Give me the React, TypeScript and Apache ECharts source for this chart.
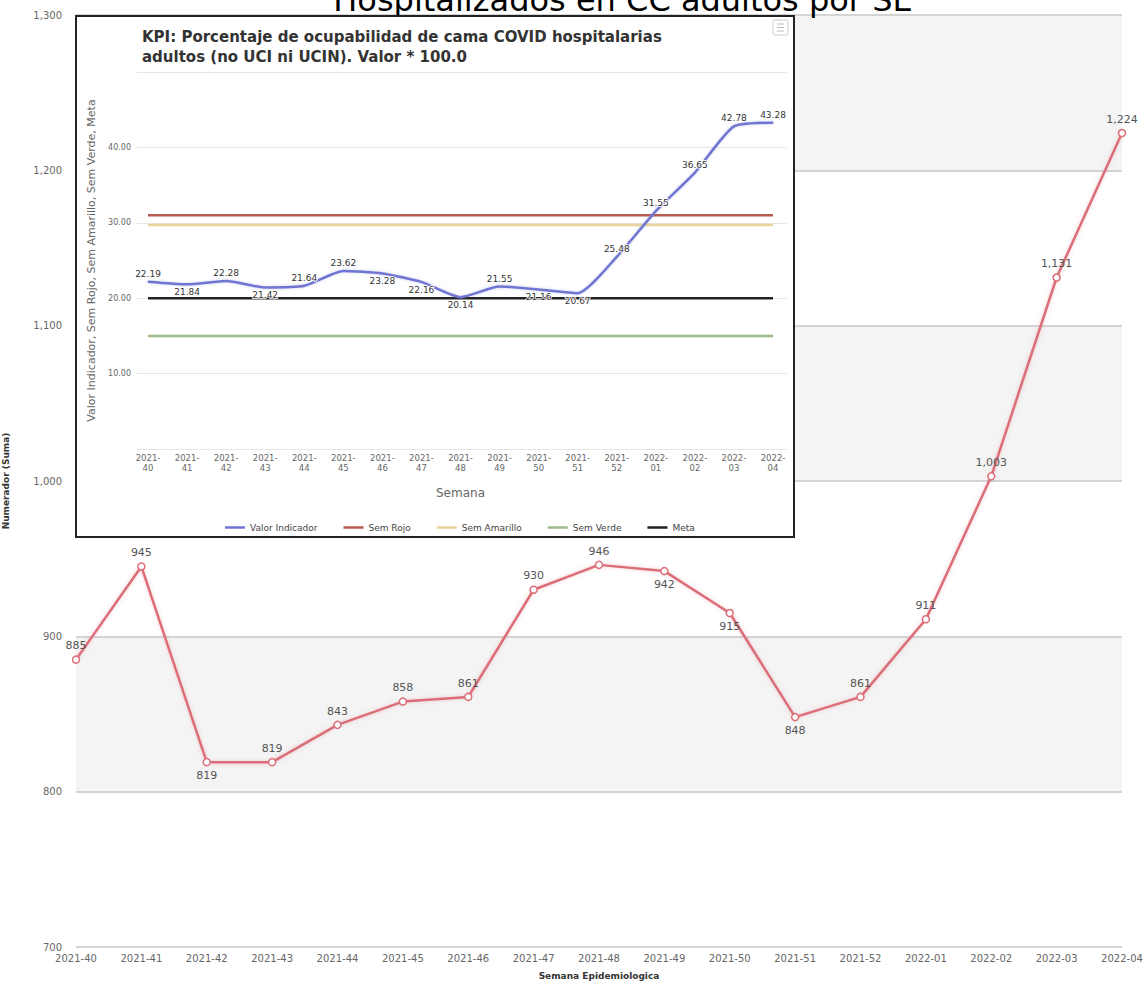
import React, { useEffect, useRef } from "react";
import * as echarts from "echarts";

const FONT = '"DejaVu Sans", Verdana, sans-serif';

const MAIN_TITLE = "Hospitalizados en CC adultos por SE";
const INSET_TITLE =
  "KPI: Porcentaje de ocupabilidad de cama COVID hospitalarias\nadultos (no UCI ni UCIN). Valor * 100.0";

const weeks = [
  "2021-40", "2021-41", "2021-42", "2021-43", "2021-44", "2021-45", "2021-46", "2021-47", "2021-48",
  "2021-49", "2021-50", "2021-51", "2021-52", "2022-01", "2022-02", "2022-03", "2022-04",
];

const numerador = [885, 945, 819, 819, 843, 858, 861, 930, 946, 942, 915, 848, 861, 911, 1003, 1131, 1224];
const numeradorLabelPos = [
  "top", "top", "bottom", "top", "top", "top", "top", "top", "top",
  "bottom", "bottom", "bottom", "top", "top", "top", "top", "top",
];

const valorIndicador = [
  22.19, 21.84, 22.28, 21.42, 21.64, 23.62, 23.28, 22.16, 20.14,
  21.55, 21.16, 20.67, 25.48, 31.55, 36.65, 42.78, 43.28,
];
const valorLabelPos = [
  "top", "bottom", "top", "bottom", "top", "top", "bottom", "bottom", "bottom",
  "top", "bottom", "bottom", "top", "top", "top", "top", "top",
];
const semRojo = [31, 31, 31, 31, 31, 31, 31, 31, 31, 31, 31, 31, 31, 31, 31, 31, 31];
const semAmarillo = [29.7, 29.7, 29.7, 29.7, 29.7, 29.7, 29.7, 29.7, 29.7, 29.7, 29.7, 29.7, 29.7, 29.7, 29.7, 29.7, 29.7];
const semVerde = [15, 15, 15, 15, 15, 15, 15, 15, 15, 15, 15, 15, 15, 15, 15, 15, 15];
const meta = [20, 20, 20, 20, 20, 20, 20, 20, 20, 20, 20, 20, 20, 20, 20, 20, 20];

const fmt = (v: number) => v.toLocaleString("en-US");

function MainChart() {
  const ref = useRef<HTMLDivElement>(null);
  useEffect(() => {
    const chart = echarts.init(ref.current!, undefined, { renderer: "svg" });
    chart.setOption({
      animation: false,
      textStyle: { fontFamily: FONT },
      graphic: [
        {
          type: "text",
          z: 100,
          style: {
            text: MAIN_TITLE,
            x: 623,
            y: 16,
            textAlign: "center",
            textVerticalAlign: "bottom",
            font: `32px ${FONT}`,
            fill: "#000",
          },
        },
      ],
      grid: { left: 76, right: 23, top: 15, bottom: 34, outerBoundsMode: "none" },
      xAxis: {
        type: "category",
        data: weeks,
        boundaryGap: false,
        axisLine: { show: false },
        axisTick: { show: false },
        axisLabel: { color: "#666", fontSize: 10, margin: 6, fontFamily: FONT },
        name: "Semana Epidemiologica",
        nameLocation: "middle",
        nameGap: 24,
        nameTextStyle: { fontWeight: "bold", fontSize: 9, color: "#333", fontFamily: FONT },
      },
      yAxis: {
        type: "value",
        min: 700,
        max: 1300,
        interval: 100,
        axisLine: { show: false },
        axisTick: { show: false },
        axisLabel: { formatter: (v: number) => fmt(v), color: "#666", fontSize: 10, margin: 14, fontFamily: FONT },
        splitLine: { lineStyle: { color: "#d4d4d4", width: 2 } },
        splitArea: { show: true, areaStyle: { color: ["rgba(255,255,255,0)", "#f4f4f4"] } },
        name: "Numerador (Suma)",
        nameLocation: "middle",
        nameGap: 66,
        nameTextStyle: { fontWeight: "bold", fontSize: 9, color: "#333", fontFamily: FONT },
      },
      series: [
        {
          type: "line",
          data: numerador.map((v, i) => ({ value: v, label: { position: numeradorLabelPos[i] } })),
          symbol: "circle",
          symbolSize: 7,
          itemStyle: { color: "#fff", borderColor: "#db6e78", borderWidth: 1.5 },
          lineStyle: { color: "#db6e78", width: 2.5, shadowColor: "rgba(219,110,120,0.35)", shadowBlur: 4 },
          label: {
            show: true,
            formatter: (p: any) => fmt(p.value),
            fontSize: 11,
            color: "#555",
            distance: 4,
            fontFamily: FONT,
          },
        },
      ],
    });
    return () => chart.dispose();
  }, []);
  return <div ref={ref} style={{ position: "absolute", left: 0, top: 0, width: 1145, height: 981 }} />;
}

function InsetChart() {
  const ref = useRef<HTMLDivElement>(null);
  useEffect(() => {
    const chart = echarts.init(ref.current!, undefined, { renderer: "svg" });
    const constSeries = (name: string, data: number[], color: string) => ({
      name,
      type: "line",
      xAxisIndex: 1,
      yAxisIndex: 1,
      data,
      showSymbol: false,
      symbol: "none",
      color,
      lineStyle: { color, width: 2.5 },
    });
    chart.setOption({
      animation: false,
      textStyle: { fontFamily: FONT },
      title: {
        text: INSET_TITLE,
        left: 60,
        top: 5,
        textStyle: { fontSize: 15, fontWeight: "bold", color: "#333", lineHeight: 20, fontFamily: FONT },
      },
      graphic: [
        { type: "rect", shape: { x: 696, y: 3, width: 15, height: 15, r: 2 }, style: { fill: "#fff", stroke: "#ccc", lineWidth: 1 } },
        { type: "line", shape: { x1: 700, y1: 7, x2: 707, y2: 7 }, style: { stroke: "#bbb", lineWidth: 1 } },
        { type: "line", shape: { x1: 700, y1: 10.5, x2: 707, y2: 10.5 }, style: { stroke: "#bbb", lineWidth: 1 } },
        { type: "line", shape: { x1: 700, y1: 14, x2: 707, y2: 14 }, style: { stroke: "#bbb", lineWidth: 1 } },
      ],
      legend: {
        left: 143,
        top: 501,
        icon: "rect",
        itemWidth: 20,
        itemHeight: 2.5,
        itemGap: 26,
        textStyle: { fontSize: 9, color: "#444", fontFamily: FONT },
        data: ["Valor Indicador", "Sem Rojo", "Sem Amarillo", "Sem Verde", "Meta"],
      },
      grid: [
        { left: 60, right: 6, top: 55, bottom: 87, outerBoundsMode: "none" },
        { left: 71, right: 20, top: 55, bottom: 87, outerBoundsMode: "none" },
      ],
      xAxis: [
        { gridIndex: 0, type: "value", show: false, min: 0, max: 1 },
        {
          gridIndex: 1,
          type: "category",
          data: weeks,
          boundaryGap: false,
          axisLine: { show: false },
          axisTick: { show: false },
          axisLabel: {
            interval: 0,
            formatter: (s: string) => s.replace("-", "-\n"),
            fontSize: 8.5,
            lineHeight: 10,
            color: "#666",
            margin: 4,
            fontFamily: FONT,
          },
          name: "Semana",
          nameLocation: "middle",
          nameGap: 38,
          nameTextStyle: { fontSize: 12, color: "#666", fontFamily: FONT },
        },
      ],
      yAxis: [
        {
          gridIndex: 0,
          type: "value",
          min: 0,
          max: 50,
          interval: 10,
          axisLine: { show: false },
          axisTick: { show: false },
          axisLabel: {
            formatter: (v: number) => (v > 0 && v < 50 ? v.toFixed(2) : ""),
            fontSize: 8,
            color: "#666",
            margin: 6,
            fontFamily: FONT,
          },
          splitLine: { lineStyle: { color: "#e6e6e6", width: 1 } },
          name: "Valor Indicador, Sem Rojo, Sem Amarillo, Sem Verde, Meta",
          nameLocation: "middle",
          nameGap: 40,
          nameTextStyle: { fontSize: 11, color: "#666", fontFamily: FONT },
        },
        { gridIndex: 1, type: "value", min: 0, max: 50, show: false, splitLine: { show: false } },
      ],
      series: [
        constSeries("Sem Rojo", semRojo, "#b85a4e"),
        constSeries("Sem Amarillo", semAmarillo, "#e6d49c"),
        constSeries("Sem Verde", semVerde, "#9dbb8a"),
        constSeries("Meta", meta, "#222222"),
        {
          name: "Valor Indicador",
          type: "line",
          xAxisIndex: 1,
          yAxisIndex: 1,
          smooth: 0.2,
          showSymbol: true,
          symbol: "circle",
          symbolSize: 1,
          color: "#7175d2",
          itemStyle: { color: "#7175d2", borderWidth: 0 },
          data: valorIndicador.map((v, i) => ({ value: v, label: { position: valorLabelPos[i] } })),
          lineStyle: { color: "#7175d2", width: 2.5, shadowColor: "rgba(113,117,210,0.35)", shadowBlur: 3 },
          label: {
            show: true,
            formatter: (p: any) => p.value.toFixed(2),
            fontSize: 9,
            color: "#333",
            distance: 3,
            textBorderColor: "#fff",
            textBorderWidth: 1.5,
            fontFamily: FONT,
          },
          z: 5,
        },
      ],
    });
    return () => chart.dispose();
  }, []);
  return <div ref={ref} style={{ width: 716, height: 519 }} />;
}

export default function App() {
  return (
    <div style={{ position: "fixed", left: 0, top: 0, width: 1145, height: 981, background: "#fff", overflow: "hidden" }}>
      <MainChart />
      <div
        style={{
          position: "absolute",
          left: 75,
          top: 15,
          width: 720,
          height: 523,
          border: "2px solid #222",
          boxSizing: "border-box",
          background: "#fff",
        }}
      >
        <InsetChart />
      </div>
    </div>
  );
}
